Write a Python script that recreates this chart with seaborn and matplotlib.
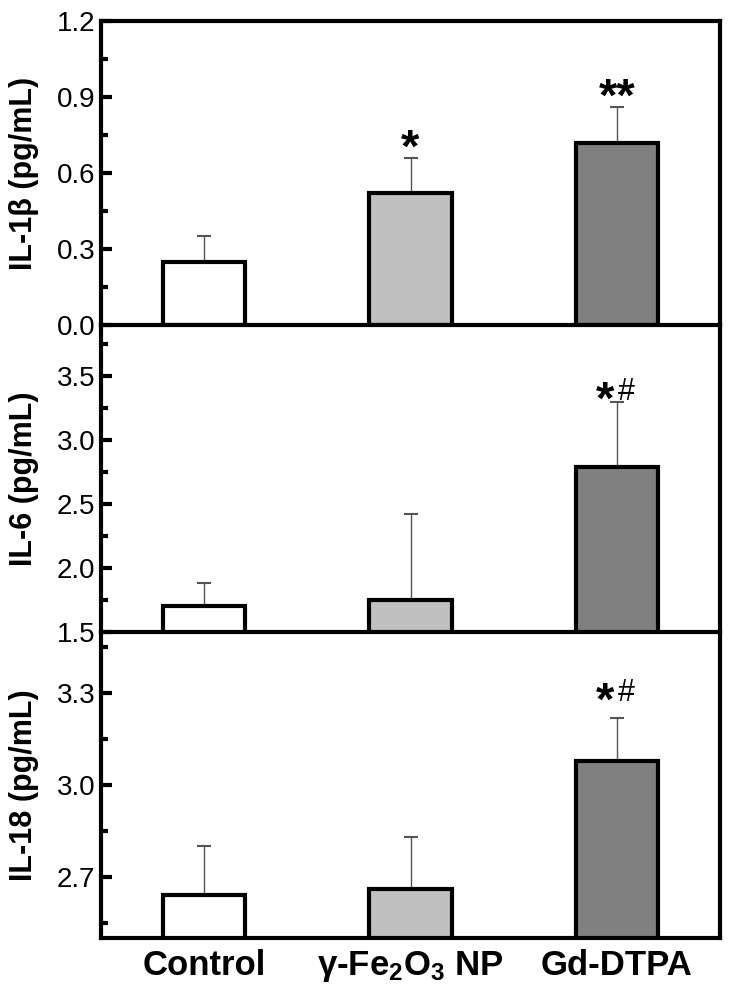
import matplotlib
matplotlib.use("Agg")
import matplotlib.pyplot as plt
import seaborn as sns
import numpy as np
import pandas as pd
from matplotlib.ticker import FixedLocator

sns.set_style("ticks")
plt.rcParams['font.family'] = ['Liberation Sans', 'DejaVu Sans']
plt.rcParams['mathtext.default'] = 'regular'
for k in ['text.color', 'axes.labelcolor', 'xtick.color', 'ytick.color',
          'xtick.labelcolor', 'ytick.labelcolor']:
    plt.rcParams[k] = 'black'

categories = ["Control", r"γ-Fe$_2$O$_3$ NP", "Gd-DTPA"]
colors = ["#ffffff", "#c0c0c0", "#808080"]

il1b_mean = [0.25, 0.52, 0.72]
il1b_err = [0.10, 0.14, 0.14]
il6_mean = [1.70, 1.75, 2.79]
il6_err = [0.18, 0.67, 0.51]
il18_mean = [2.64, 2.66, 3.08]
il18_err = [0.16, 0.17, 0.14]

ylabels = ["IL-1β (pg/mL)", "IL-6 (pg/mL)", "IL-18 (pg/mL)"]
ylims = [(0, 1.2), (1.5, 3.9), (2.5, 3.5)]
major_ticks = [[0.0, 0.3, 0.6, 0.9, 1.2], [1.5, 2.0, 2.5, 3.0, 3.5], [2.7, 3.0, 3.3]]
minor_ticks = [[0.15, 0.45, 0.75, 1.05], [1.75, 2.25, 2.75, 3.25, 3.75], [2.55, 2.85, 3.15, 3.45]]
annotations = [
    [(1, 0.73, "*"), (2, 0.93, "**")],
    [(2, 3.38, "*#")],
    [(2, 3.30, "*#")],
]

W, H = 735, 994
fig = plt.figure(figsize=(W / 100, H / 100), dpi=100)
left, right = 101, 720
rows = [(21, 325), (325, 632), (632, 938)]
means = [il1b_mean, il6_mean, il18_mean]
errs = [il1b_err, il6_err, il18_err]

for i, (top, bot) in enumerate(rows):
    ax = fig.add_axes([left / W, 1 - bot / H, (right - left) / W, (bot - top) / H])
    ax.patch.set_visible(False)
    df = pd.DataFrame({"group": categories, "value": means[i]})
    sns.barplot(data=df, x="group", y="value", hue="group", palette=colors,
                width=0.4, edgecolor="black", linewidth=3, ax=ax, legend=False,
                saturation=1, zorder=3)
    xs = np.arange(len(categories))
    ax.errorbar(xs, means[i], yerr=[np.zeros(3), errs[i]], fmt="none",
                ecolor="#555555", elinewidth=1, capsize=5, capthick=1.5, zorder=2)
    ax.set_xlim(-0.5, 2.5)
    ax.set_ylim(*ylims[i])
    ax.yaxis.set_major_locator(FixedLocator(major_ticks[i]))
    ax.yaxis.set_minor_locator(FixedLocator(minor_ticks[i]))
    ax.set_yticklabels(["{:.1f}".format(t) for t in major_ticks[i]], fontsize=20)
    ax.tick_params(axis="y", which="major", direction="in", length=8, width=3, pad=4)
    ax.tick_params(axis="y", which="minor", direction="in", length=5, width=3)
    ax.tick_params(axis="x", length=0)
    for s in ax.spines.values():
        s.set_linewidth(3)
        s.set_color("black")
        s.set_visible(True)
        s.set_zorder(5)
    if i > 0:
        ax.spines["top"].set_visible(False)
    ax.set_ylabel(ylabels[i], fontsize=22, fontweight="bold")
    ax.yaxis.set_label_coords(-0.1, 0.5)
    ax.set_xlabel("")
    if i < 2:
        ax.set_xticklabels([])
    else:
        ax.set_xticks(xs)
        ax.set_xticklabels(categories, fontsize=25, fontweight="bold")
        ax.tick_params(axis="x", pad=8)
    for (x, y, t) in annotations[i]:
        if t == "*#":
            ax.annotate("*", (x, y), xytext=(-2, -7), textcoords="offset points",
                        ha="right", va="center", fontsize=34, fontweight="bold")
            ax.annotate("#", (x, y), xytext=(1, 0), textcoords="offset points",
                        ha="left", va="center", fontsize=22)
        else:
            ax.annotate(t, (x, y), xytext=(0, -7), textcoords="offset points",
                        ha="center", va="center", fontsize=34, fontweight="bold")

fig.savefig("out.png", dpi=100)
